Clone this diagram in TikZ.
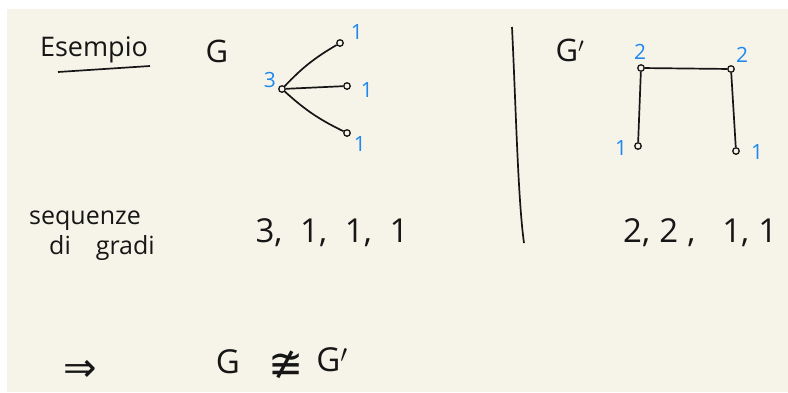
\documentclass[tikz,border=0pt]{standalone}
\usepackage{fontspec}
\setmainfont{Open Sans}
\newfontfamily\symf{DejaVu Sans}
\usetikzlibrary{positioning}
\definecolor{paper}{HTML}{F6F4E9}
\definecolor{ink}{HTML}{161616}
\definecolor{deg}{HTML}{1E88F0}

\begin{document}
\begin{tikzpicture}[x=1pt,y=-1pt,
  every node/.style={text=ink},
  vtx/.style={circle,draw=ink,line width=1.3pt,inner sep=0pt,minimum size=6.5pt},
  lab/.style={text=deg,font=\fontsize{21}{21}\selectfont,inner sep=0pt},
  big/.style={font=\fontsize{33}{33}\selectfont,inner sep=0pt},
  hand/.style={font=\fontsize{25}{30}\selectfont,inner sep=0pt,align=left},
  e/.style={draw=ink,line width=1.7pt}]
\useasboundingbox (0,0) rectangle (788,392);
\fill[white] (0,0) rectangle (788,392);
\fill[paper] (7,9) rectangle (788,392);

\node[hand,font=\fontsize{27}{27}\selectfont] (ex) at (94,50) {Esempio};
\coordinate (ul1) at (58,72); \coordinate (ul2) at (150,66);
\draw[e] (ul1) -- (ul2);
\node[big,font=\fontsize{31}{31}\selectfont] (g) at (217,51) {G};

\node[vtx] (c)  at (282,89)  {};
\node[vtx] (l1) at (340,43)  {};
\node[vtx] (l2) at (347,86)  {};
\node[vtx] (l3) at (347,133) {};
\draw[e] (c) to[bend left=8] (l1);
\draw[e] (c) -- (l2);
\draw[e] (c) to[bend right=8] (l3);
\node[lab] (dc)  at (270,80)  {3};
\node[lab] (dl1) at (357,32)  {1};
\node[lab] (dl2) at (367,90)  {1};
\node[lab] (dl3) at (360,144) {1};

\coordinate (s1) at (512,27); \coordinate (s2) at (524,243);
\draw[e] (s1) .. controls (516,110) and (518,200) .. (s2);

\node[big,font=\fontsize{31}{31}\selectfont] (gp) at (570,50) {G$'$};
\node[vtx] (a) at (641,68)  {};
\node[vtx] (b) at (731,69)  {};
\node[vtx] (p) at (638,146) {};
\node[vtx] (q) at (736,151) {};
\draw[e] (p) -- (a) -- (b) -- (q);
\node[lab] (da) at (640,52)  {2};
\node[lab] (db) at (742,55)  {2};
\node[lab] (dp) at (621,148) {1};
\node[lab] (dq) at (757,152) {1};

\node[hand,anchor=west] (sq) at (29,236) {sequenze\\\hspace*{20pt}di\quad gradi};
\node[big] (s) at (332,233) {3,\; 1,\; 1,\; 1};
\node[big,anchor=west] (sp) at (623,233) {2,\;2\;,\;\; 1,\;1};

\node[big,font=\fontsize{40}{40}\selectfont] (imp) at (80,371) {\symf ⇒};
\node[big] (g1) at (228,362) {G};
\node[big,font=\fontsize{42}{42}\selectfont] (nc) at (286,365) {\symf ≇};
\node[big] (g2) at (332,360) {G$'$};
\end{tikzpicture}
\end{document}
